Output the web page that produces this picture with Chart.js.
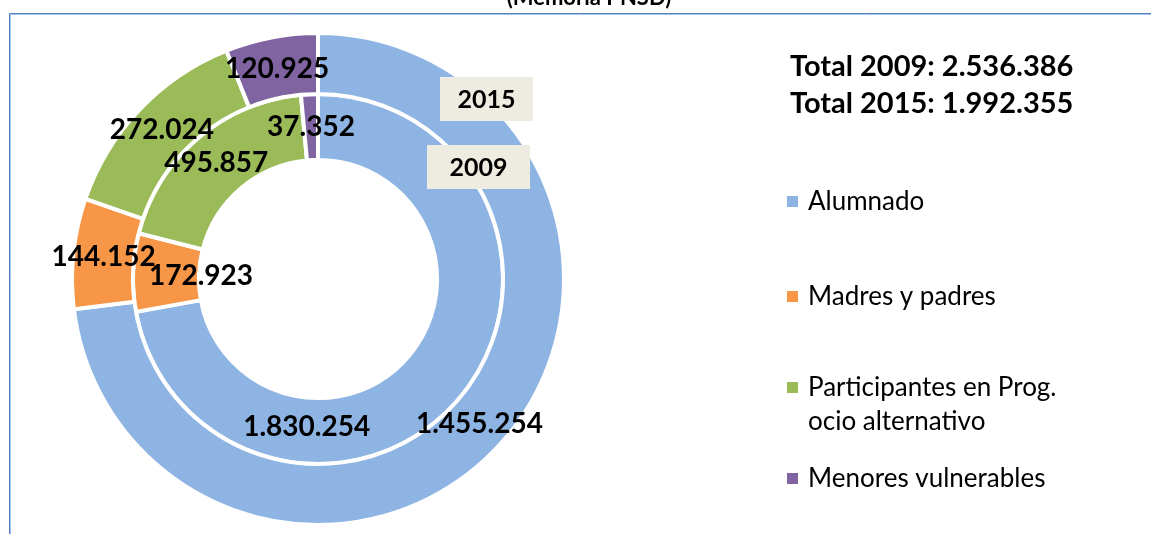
<!DOCTYPE html>
<html>
<head>
<meta charset="utf-8">
<script src="https://cdn.jsdelivr.net/npm/chart.js@4.4.0/dist/chart.umd.min.js"></script>
<style>
  html, body { margin: 0; padding: 0; background: #fff; }
  #wrap { width: 1151px; height: 534px; position: relative; }
</style>
</head>
<body>
<div id="wrap"><canvas id="myChart" width="1151" height="534"></canvas></div>
<script>
// data
const categories = ['Alumnado', 'Madres y padres', 'Participantes en Prog. ocio alternativo', 'Menores vulnerables'];
const legendLines = [['Alumnado'], ['Madres y padres'], ['Participantes en Prog.', 'ocio alternativo'], ['Menores vulnerables']];
const seriesNames = ['2015', '2009'];
const values2015 = [1455254, 144152, 272024, 120925];
const values2009 = [1830254, 172923, 495857, 37352];

const colors = ['#8EB4E3', '#F79646', '#9BBB59', '#8064A2'];

// label nudges (px) for the two inner labels that Excel had dragged
const labelShift = [
  [[0, 2], [0, 0], [0, 0], [0, 2]],
  [[-128, 50], [35, 2], [-3, 0], [0, 0]],
];

const fmt = n => String(n).replace(/\B(?=(\d{3})+(?!\d))/g, '.');
const sum = a => a.reduce((s, v) => s + v, 0);

const deco = {
  id: 'deco',
  beforeDraw(chart) {
    const c = chart.ctx;
    const W = chart.width, H = chart.height;
    c.save();
    c.fillStyle = '#fff';
    c.fillRect(0, 0, W, H);
    c.lineWidth = 1;
    c.strokeStyle = '#4F81BD';
    c.beginPath(); c.moveTo(9.5, H); c.lineTo(9.5, 13.5); c.lineTo(W, 13.5); c.stroke();
    c.strokeStyle = '#A9C2E6';
    c.beginPath(); c.moveTo(10.5, H); c.lineTo(10.5, 14.5); c.lineTo(W, 14.5); c.stroke();
    c.fillStyle = '#000';
    c.font = 'bold 22px Lato';
    c.textAlign = 'center';
    c.textBaseline = 'alphabetic';
    c.fillText('(Memoria PNSD)', 589, 5);
    c.restore();
  },
  afterDatasetsDraw(chart) {
    const c = chart.ctx;
    c.save();
    c.fillStyle = '#000';
    c.textAlign = 'center';
    c.textBaseline = 'middle';
    c.font = 'bold 28px Lato';
    chart.data.datasets.forEach((ds, d) => {
      chart.getDatasetMeta(d).data.forEach((arc, i) => {
        const p = arc.tooltipPosition();
        const s = labelShift[d][i];
        c.fillText(fmt(ds.data[i]), p.x + s[0], p.y + s[1]);
      });
    });

    // series name boxes
    const boxes = [
      { text: seriesNames[0], x: 440, y: 77, w: 93, h: 44 },
      { text: seriesNames[1], x: 427, y: 145, w: 103, h: 44 },
    ];
    c.font = 'bold 25px Lato';
    boxes.forEach(b => {
      c.fillStyle = '#EEECE1';
      c.fillRect(b.x, b.y, b.w, b.h);
      c.fillStyle = '#000';
      c.fillText(b.text, b.x + b.w / 2, b.y + b.h / 2 + 1);
    });

    // totals
    c.textAlign = 'left';
    c.font = 'bold 29px Lato';
    c.fillText('Total 2009: ' + fmt(sum(values2009)), 790, 67);
    c.fillText('Total 2015: ' + fmt(sum(values2015)), 790, 104);

    // legend
    const legendY = [202, 297, 388, 479];
    c.font = '26px Lato';
    legendLines.forEach((lines, i) => {
      c.fillStyle = colors[i];
      c.fillRect(787, legendY[i] - 6, 11, 11);
      c.fillStyle = '#000';
      lines.forEach((t, k) => c.fillText(t, 808, legendY[i] + k * 34));
    });
    c.restore();
  },
};

function draw() {
  const ctx = document.getElementById('myChart').getContext('2d');
  new Chart(ctx, {
    type: 'doughnut',
    data: {
      labels: categories,
      datasets: [
        { label: seriesNames[0], data: values2015, backgroundColor: colors, borderColor: '#fff', borderWidth: 4, weight: 61 },
        { label: seriesNames[1], data: values2009, backgroundColor: colors, borderColor: '#fff', borderWidth: 4, weight: 66 },
      ],
    },
    options: {
      responsive: false,
      animation: false,
      events: [],
      cutout: '48.4%',
      layout: { padding: { left: 70, right: 585, top: 31, bottom: 7 } },
      plugins: { legend: { display: false }, tooltip: { enabled: false }, title: { display: false } },
    },
    plugins: [deco],
  });
}

if (document.fonts && document.fonts.load) {
  Promise.all([document.fonts.load('26px Lato'), document.fonts.load('bold 26px Lato')]).then(draw, draw);
} else {
  draw();
}
</script>
</body>
</html>
